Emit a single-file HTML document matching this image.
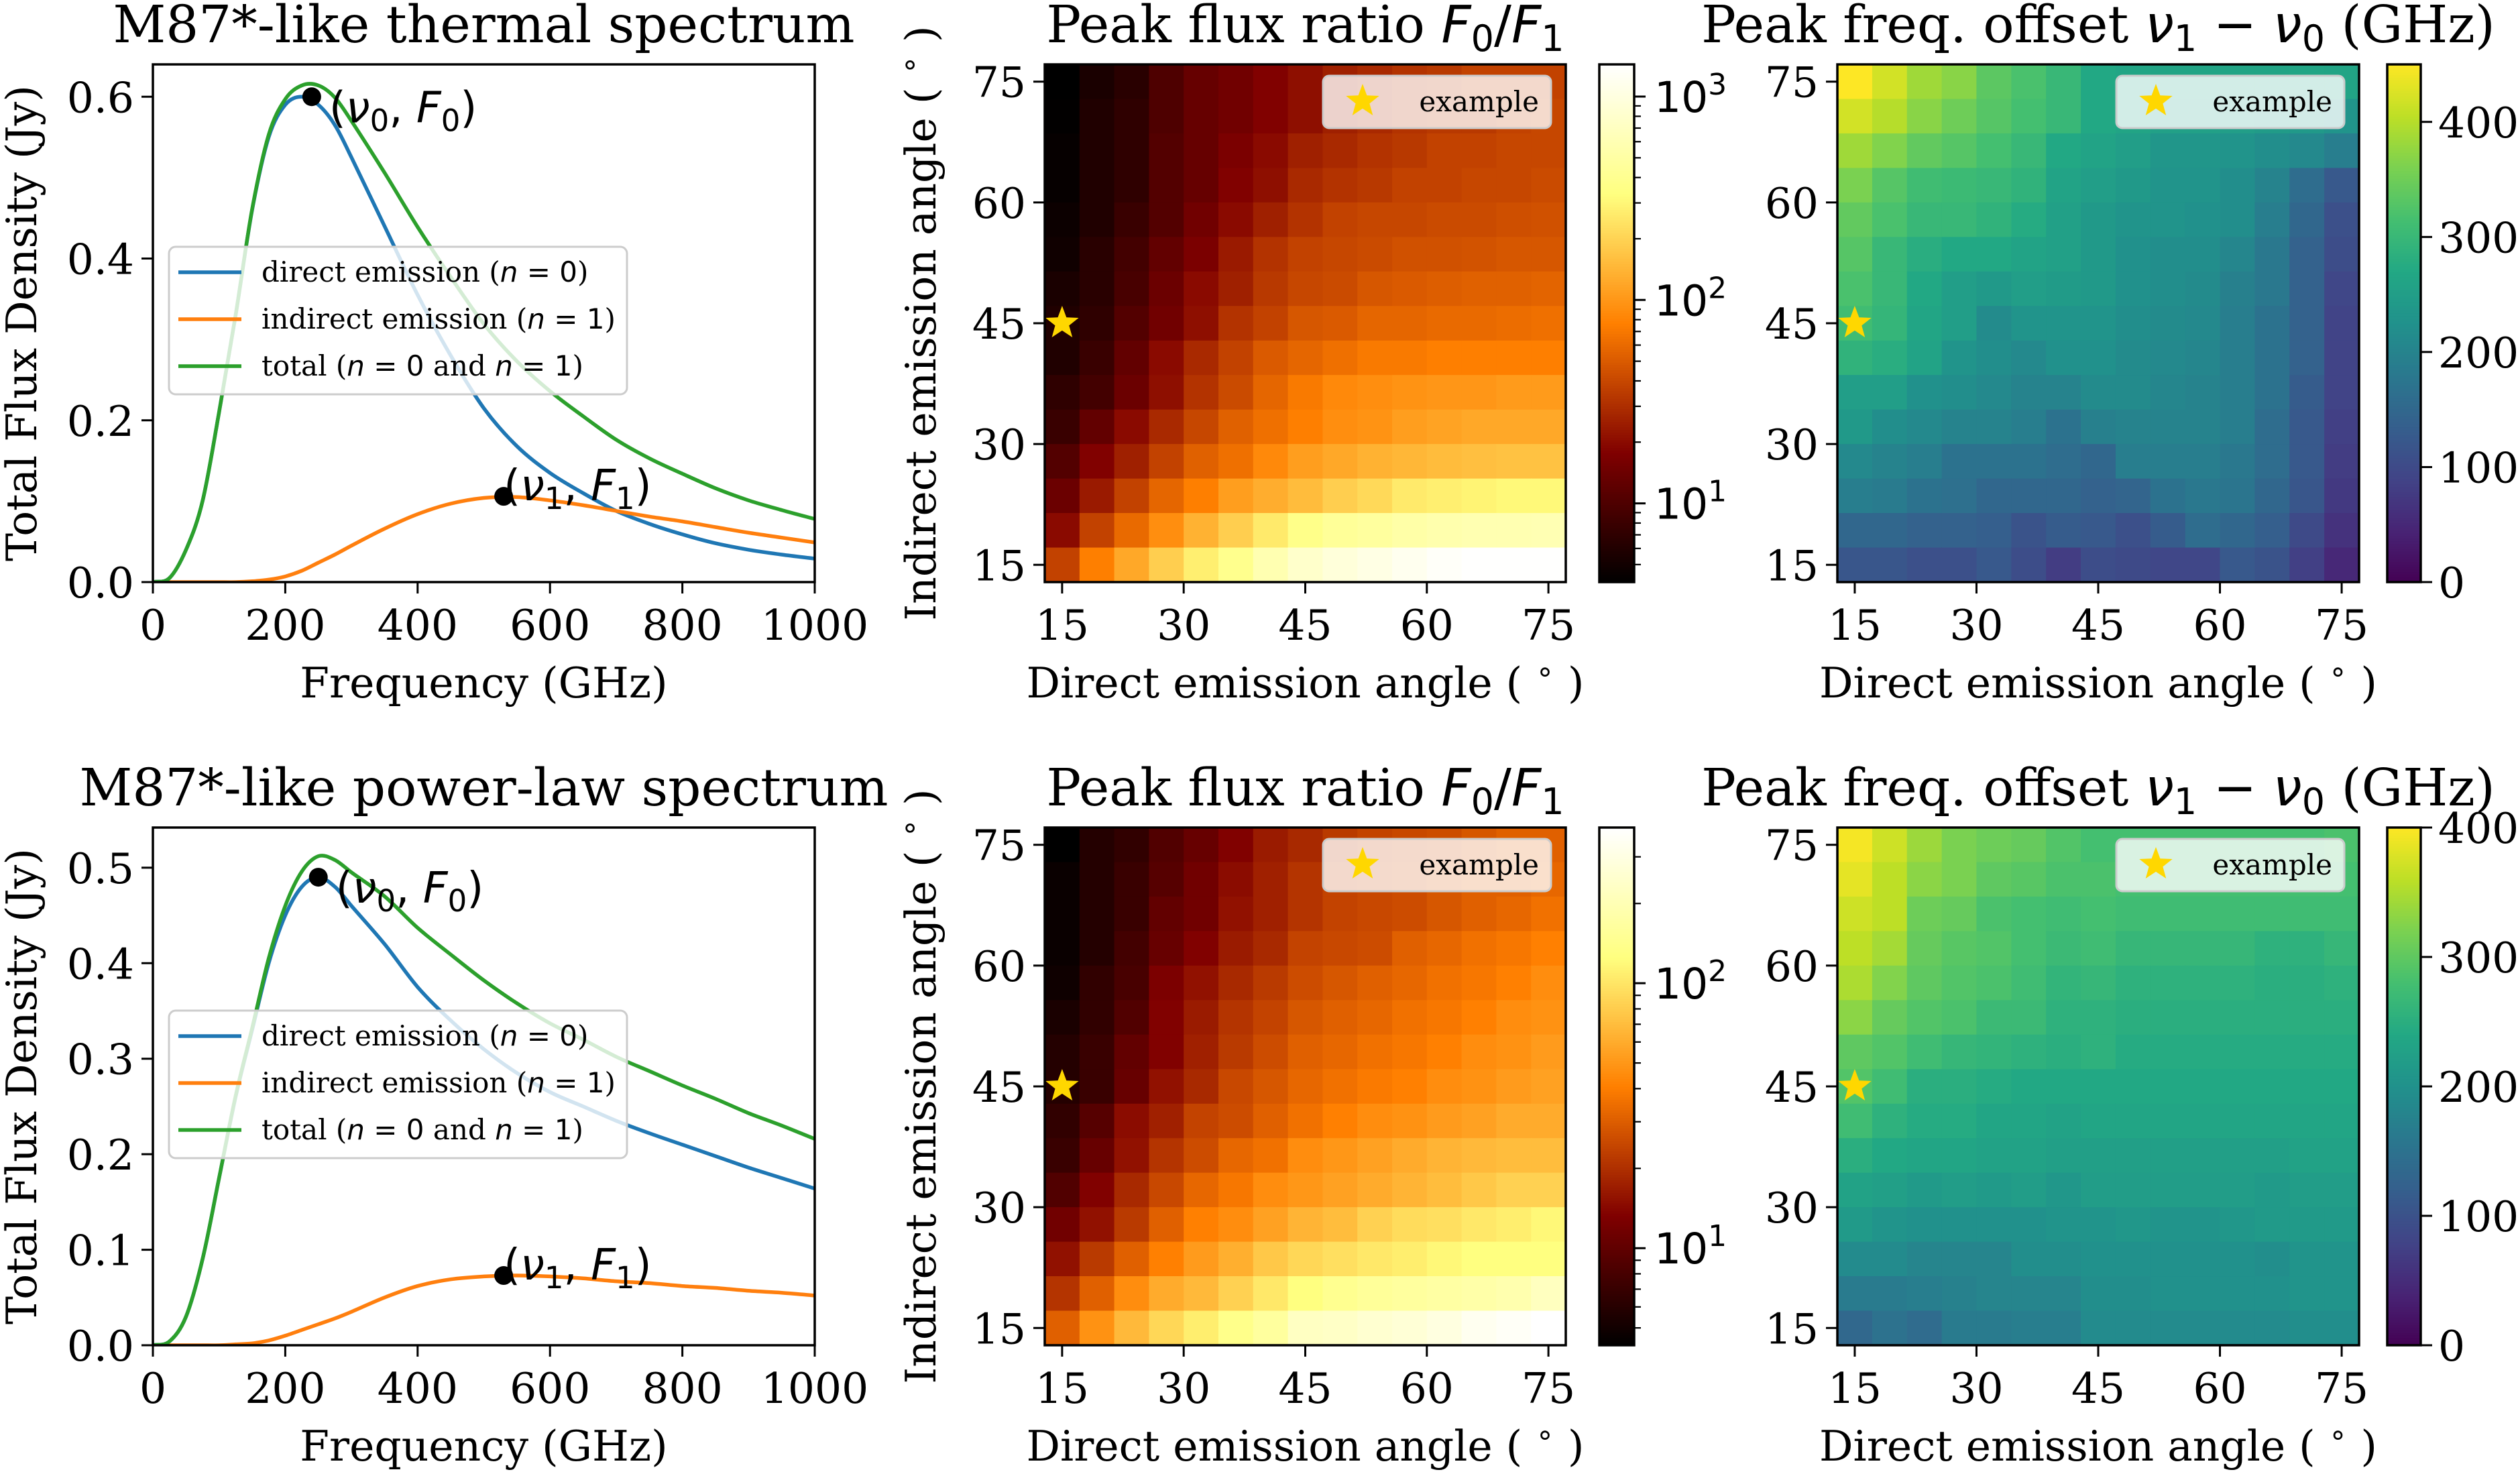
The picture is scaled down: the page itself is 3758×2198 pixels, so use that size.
<!DOCTYPE html>
<html><head><meta charset="utf-8"><style>
html,body{margin:0;padding:0;background:#fff;}
svg{display:block;}
text{font-family:"DejaVu Serif","Liberation Serif",serif;fill:#000;}
.m{font-family:"DejaVu Sans","Liberation Sans",sans-serif;}
</style></head><body>
<svg id="fig" xmlns="http://www.w3.org/2000/svg" width="3758" height="2198" viewBox="0 0 3758 2198"></svg>
<script>
// ---------- spectrum data ----------
const freqGHz=[0,25,50,75,100,125,150,175,200,225,250,275,300,350,400,450,500,550,600,650,700,750,800,850,900,950,1000];
const thermalDirect=[0,0.005,0.04,0.10,0.21,0.33,0.46,0.55,0.59,0.6,0.59,0.565,0.525,0.44,0.355,0.28,0.215,0.168,0.135,0.11,0.088,0.072,0.059,0.048,0.04,0.034,0.029];
const thermalIndirect=[0,0,0,0,0,0,0.001,0.003,0.007,0.014,0.024,0.034,0.045,0.066,0.084,0.097,0.104,0.105,0.101,0.095,0.088,0.081,0.075,0.068,0.061,0.055,0.049];
const thermalTotal=[0,0.005,0.04,0.10,0.21,0.33,0.461,0.553,0.597,0.614,0.614,0.599,0.57,0.506,0.439,0.377,0.319,0.273,0.236,0.205,0.176,0.153,0.134,0.116,0.101,0.089,0.078];
const thermalPeaks=[[240,0.6],[530,0.106]];
const plDirect=[0,0.004,0.03,0.09,0.175,0.26,0.33,0.4,0.45,0.48,0.49,0.48,0.46,0.42,0.375,0.34,0.31,0.285,0.265,0.25,0.235,0.222,0.21,0.198,0.186,0.175,0.164];
const plIndirect=[0,0,0,0,0,0.001,0.002,0.005,0.01,0.016,0.022,0.028,0.035,0.05,0.062,0.069,0.072,0.073,0.072,0.07,0.067,0.065,0.062,0.06,0.057,0.055,0.052];
const plTotal=[0,0.004,0.03,0.09,0.175,0.261,0.332,0.405,0.46,0.496,0.512,0.508,0.495,0.47,0.437,0.409,0.382,0.358,0.337,0.32,0.302,0.287,0.272,0.258,0.243,0.23,0.216];
const plPeaks=[[250,0.49],[530,0.073]];
const freqTicks=[0,200,400,600,800,1000];
const thermalYTicks=[0,0.2,0.4,0.6];
const plYTicks=[0,0.1,0.2,0.3,0.4,0.5];

// ---------- heatmap data ----------
const directAngles=[15,19.29,23.57,27.86,32.14,36.43,40.71,45,49.29,53.57,57.86,62.14,66.43,70.71,75];
const indirectAngles=[75,70.71,66.43,62.14,57.86,53.57,49.29,45,40.71,36.43,32.14,27.86,23.57,19.29,15]; // row order
const angleTicks=[15,30,45,60,75];
const exampleAngles=[15,45];
const thermalRatio=[
[4.1,5.5,6.6,10,13.3,15,18,21,25.5,28.5,32,34,38,38,38],
[4.2,5.9,7,10,13.3,15,18,21,25.5,28.5,32,34,34,38,40],
[4.4,5.9,7,10.6,13.3,16.9,20,25.5,28.5,32,34,38,38,40,40],
[4.4,5.9,7,10.6,13.3,18,21,28.5,32,34,38,38,40,40,42],
[4.7,5.9,7.9,10.6,15,20,25.5,32,38,40,40,42,42,44,45],
[4.9,6.6,8.9,12.6,16.9,24,32,38,40,42,45,45,46,48,48],
[5.5,6.6,9.4,14,20,25.5,34,40,42,48,50,52,54,54,56],
[5.9,7,10.6,15,21,32,38,48,50,57,57,60,60,62,64],
[5.9,7.9,12.6,20,28.5,38,50,57,64,72,72,76,76,76,76],
[7,8.9,14,21,32,42,57,72,86,91,96,100,100,105,105],
[7.9,12.6,20,28.5,40,54,64,76,91,96,109,115,122,122,122],
[10.6,18,25.5,38,54,64,86,109,122,137,145,154,160,165,165],
[14,24,38,57,76,109,130,154,190,214,262,278,292,310,310],
[20,38,60,91,137,190,262,370,440,470,525,560,590,590,600],
[38,76,122,190,278,390,590,790,940,1060,1200,1350,1430,1430,1430]];
const thermalRatioRange=[4.1,1440];
const plRatio=[
[4.3,5.9,6.6,8.8,10.7,13.4,16.8,19,22,24,25,26,28.5,31,31],
[4.7,5.9,7.1,9.2,11.7,14.7,17.6,21,24,25,26,28.5,31,31,33],
[4.7,5.9,7.1,10.2,11.7,15.4,17.6,21,24,25,26,28.5,31,33,36],
[4.7,5.9,7.8,10.7,13.4,16.8,19,24,25,26,31,33,36,38,41],
[4.9,6.6,8.1,12.8,15.4,19,22,26,28.5,31,33,36,38,41,46],
[5.4,6.6,8.8,13.4,16.8,21,24,28.5,31,33,36,38,41,46,48],
[5.9,7.1,10.2,13.4,17.6,22,26,31,33,36,38,41,46,48,52],
[5.9,7.1,10.7,15.4,19,25,28.5,33,36,39,41,46,48,52,55],
[6.6,9.2,14.7,17.6,24,26,31,36,41,46,48,52,55,60,60],
[7.1,10.7,15.4,21,26,33,36,46,50,55,60,65,68,70,70],
[8.8,13.4,19,25,33,38,46,50,55,60,65,70,77,84,84],
[11.7,15.4,22,31,41,46,55,65,70,84,92,95,103,108,118],
[15.4,22,31,41,52,62,77,88,95,103,108,118,126,126,126],
[21,31,46,60,68,84,103,126,145,158,165,172,180,190,220],
[31,48,68,88,108,138,165,225,235,255,270,295,340,360,387]];
const plRatioRange=[4.3,387];
const thermalOffset=[
[450,420,385,370,335,320,300,270,265,262,262,262,262,265,262],
[420,400,370,350,330,315,300,270,262,255,255,250,245,240,230],
[385,365,340,330,315,300,270,260,250,235,235,230,220,210,190],
[360,330,310,305,300,290,260,250,240,230,230,220,200,160,125],
[340,320,300,300,290,275,255,240,230,230,225,220,190,150,110],
[330,300,280,270,270,260,255,240,225,220,220,205,180,140,105],
[320,300,270,250,240,250,245,240,225,220,215,195,180,140,95],
[310,295,265,250,215,230,230,230,220,215,210,190,170,140,90],
[290,280,260,230,220,210,225,225,215,210,205,190,170,140,90],
[250,250,225,220,210,200,200,215,215,205,200,190,170,130,90],
[240,220,210,200,200,190,170,195,200,200,200,190,160,125,85],
[210,200,190,170,170,170,160,150,190,190,190,180,160,125,80],
[190,185,170,165,150,150,150,140,145,170,180,175,150,120,75],
[150,150,140,140,135,115,130,125,110,130,160,150,135,100,65],
[120,120,110,110,125,105,80,105,100,95,95,125,115,85,50]];
const thermalOffsetRange=[0,450];
const plOffset=[
[395,370,340,320,310,305,290,280,280,280,280,280,280,280,285],
[385,360,330,320,300,295,285,285,280,280,280,280,280,280,280],
[370,360,310,305,285,280,275,280,275,275,275,275,275,275,275],
[360,345,305,295,290,280,270,275,265,265,265,265,255,255,265],
[350,325,300,290,285,275,260,265,255,255,255,255,250,250,255],
[330,305,290,285,270,270,255,255,250,250,250,250,250,250,250],
[300,290,275,265,260,255,250,255,245,245,245,245,245,245,245],
[290,275,250,250,245,240,240,240,240,240,240,240,240,240,240],
[275,255,245,245,235,235,230,235,235,235,235,235,235,235,235],
[250,240,235,235,230,230,225,225,225,225,225,225,225,230,230],
[230,225,215,220,215,220,210,220,220,220,220,220,215,220,220],
[215,205,200,200,200,200,205,205,210,205,205,210,215,215,215],
[190,190,180,180,180,195,195,200,200,200,200,200,195,205,205],
[165,165,170,175,180,180,180,195,195,200,200,200,200,205,205],
[135,150,140,165,165,170,170,190,190,190,190,190,190,195,195]];
const plOffsetRange=[0,400];
const thermalOffsetTicks=[0,100,200,300,400];
const plOffsetTicks=[0,100,200,300,400];

// ---------- helpers ----------
const NS='http://www.w3.org/2000/svg';
const fig=document.getElementById('fig');
function mk(tag,attrs,parent){const e=document.createElementNS(NS,tag);for(const k in attrs)e.setAttribute(k,attrs[k]);(parent||fig).appendChild(e);return e;}
function clamp(v){return Math.max(0,Math.min(1,v));}
function hex(r,g,b){return 'rgb('+Math.round(clamp(r)*255)+','+Math.round(clamp(g)*255)+','+Math.round(clamp(b)*255)+')';}
function afmhot(t){t=clamp(t);return hex(2*t,2*t-0.5,2*t-1);}
const VIR=[[68,1,84],[72,36,117],[65,68,135],[53,95,141],[42,120,142],[33,145,140],[34,168,132],[68,191,112],[122,209,81],[189,223,38],[253,231,37]];
function viridis(t){t=clamp(t)*10;const i=Math.min(9,Math.floor(t)),f=t-i;const a=VIR[i],b=VIR[i+1];return 'rgb('+[0,1,2].map(k=>Math.round(a[k]+(b[k]-a[k])*f)).join(',')+')';}
function smoothPath(pts){let d='M'+pts[0][0]+','+pts[0][1];for(let i=0;i<pts.length-1;i++){const p0=pts[Math.max(0,i-1)],p1=pts[i],p2=pts[i+1],p3=pts[Math.min(pts.length-1,i+2)];
  const h=p2[0]-p1[0];const s1=(p2[1]-p0[1])/((p2[0]-p0[0])||1),s2=(p3[1]-p1[1])/((p3[0]-p1[0])||1);
  const c1=[p1[0]+h/3,p1[1]+s1*h/3],c2=[p2[0]-h/3,p2[1]-s2*h/3];
  d+=' C'+c1[0].toFixed(1)+','+c1[1].toFixed(1)+' '+c2[0].toFixed(1)+','+c2[1].toFixed(1)+' '+p2[0].toFixed(1)+','+p2[1].toFixed(1);}return d;}
function fmtTick(v,dec){return v.toFixed(dec);}
const TICK=63, LW=3.5;

// ---------- spectrum panel ----------
function spectrum(name,box,title,series,peaks,yTicks,ymax,dec){
  const g=mk('g',{});
  
  
  const xs=v=>box.l+v/1000*(box.r-box.l), ys=v=>box.b-v/ymax*(box.b-box.t);
  const t=mk('text',{x:(box.l+box.r)/2,y:box.t-33,'font-size':77,'text-anchor':'middle'},g);t.textContent=title;
  
  
  const clip='clip-'+name;const cp=mk('clipPath',{id:clip},g);mk('rect',{x:box.l,y:box.t,width:box.r-box.l,height:box.b-box.t},cp);
  series.forEach(s=>{
    const p=mk('path',{d:smoothPath(freqGHz.map((f,i)=>[xs(f),ys(s.vals[i])])),fill:'none',stroke:s.color,'stroke-width':5.5,'clip-path':'url(#'+clip+')'},g);
    
    
  });
  peaks.forEach((pk,i)=>{
    const c=mk('circle',{cx:xs(pk[0]),cy:ys(pk[1]),r:14,fill:'#000'},g);
    
    
    const lx=i===0?xs(pk[0])+26:xs(pk[0]), ly=i===0?ys(pk[1])+38:ys(pk[1])+6;
    const tx=mk('text',{x:lx,y:ly,'font-size':64,class:'m'},g);
    tx.innerHTML='(<tspan font-style="italic">ν</tspan><tspan font-size="45" dy="13">'+i+'</tspan><tspan dy="-13">, </tspan><tspan font-style="italic">F</tspan><tspan font-size="45" dy="13">'+i+'</tspan><tspan dy="-13">)</tspan>';
    
    
  });
  const fr=mk('rect',{x:box.l,y:box.t,width:box.r-box.l,height:box.b-box.t,fill:'none',stroke:'#000','stroke-width':LW},g);
  
  
  freqTicks.forEach(v=>{
    mk('line',{x1:xs(v),x2:xs(v),y1:box.b,y2:box.b+17,stroke:'#000','stroke-width':3},g);
    const l=mk('text',{x:xs(v),y:box.b+86,'font-size':TICK,'text-anchor':'middle'},g);l.textContent=v;
    
    
  });
  yTicks.forEach(v=>{
    mk('line',{x1:box.l-17,x2:box.l,y1:ys(v),y2:ys(v),stroke:'#000','stroke-width':3},g);
    const l=mk('text',{x:box.l-28,y:ys(v)+23,'font-size':TICK,'text-anchor':'end'},g);l.textContent=fmtTick(v,dec);
    
    
  });
  const xl=mk('text',{x:(box.l+box.r)/2,y:box.b+172,'font-size':TICK,'text-anchor':'middle'},g);xl.textContent='Frequency (GHz)';
  
  
  const yl=mk('text',{x:0,y:0,'font-size':TICK,'text-anchor':'middle',transform:'translate(54,'+((box.t+box.b)/2)+') rotate(-90)'},g);yl.textContent='Total Flux Density (Jy)';
  
  
  const lg=mk('g',{},g);
  
  
  const ly0=box.legendTop;
  mk('rect',{x:252,y:ly0,width:683,height:220,rx:10,fill:'#fff','fill-opacity':0.8,stroke:'#cccccc','stroke-width':3},lg);
  const labels=['direct emission (<tspan class="m" font-style="italic">n</tspan><tspan class="m"> = 0</tspan>)','indirect emission (<tspan class="m" font-style="italic">n</tspan><tspan class="m"> = 1</tspan>)','total (<tspan class="m" font-style="italic">n</tspan><tspan class="m"> = 0</tspan> and <tspan class="m" font-style="italic">n</tspan><tspan class="m"> = 1</tspan>)'];
  series.forEach((s,i)=>{
    const y=ly0+38+i*70;
    const e=mk('line',{x1:266,x2:360,y1:y,y2:y,stroke:s.color,'stroke-width':5.5},lg);
    
    
    const tx=mk('text',{x:390,y:y+14,'font-size':42},lg);tx.innerHTML=labels[i];
    
    
  });
}
spectrum('thermal-spectrum',{l:228,r:1215,t:96,b:868,legendTop:368},'M87*-like thermal spectrum',
 [{key:'direct',vals:thermalDirect,color:'#1f77b4'},{key:'indirect',vals:thermalIndirect,color:'#ff7f0e'},{key:'total',vals:thermalTotal,color:'#2ca02c'}],
 thermalPeaks,thermalYTicks,0.64,1);
spectrum('power-law-spectrum',{l:228,r:1215,t:1234,b:2006,legendTop:1507},'M87*-like power-law spectrum',
 [{key:'direct',vals:plDirect,color:'#1f77b4'},{key:'indirect',vals:plIndirect,color:'#ff7f0e'},{key:'total',vals:plTotal,color:'#2ca02c'}],
 plPeaks,plYTicks,0.542,1);

// ---------- heatmap panel ----------
function heatmap(name,box,titleHTML,grid,range,isLog,cmap,cbar,cbTicks,showYLabel){
  const g=mk('g',{});
  
  
  const step=(75-15)/14, a0=15-step/2, a1=75+step/2;
  const xs=v=>box.l+(v-a0)/(a1-a0)*(box.r-box.l), ys=v=>box.b-(v-a0)/(a1-a0)*(box.b-box.t);
  const norm=v=>isLog?(Math.log10(v)-Math.log10(range[0]))/(Math.log10(range[1])-Math.log10(range[0])):(v-range[0])/(range[1]-range[0]);
  grid.forEach((row,r)=>row.forEach((v,c)=>{
    const x0=xs(directAngles[c]-step/2),x1=xs(directAngles[c]+step/2),y0=ys(indirectAngles[r]+step/2),y1=ys(indirectAngles[r]-step/2);
    const cell=mk('rect',{x:x0.toFixed(2),y:y0.toFixed(2),width:(x1-x0+0.8).toFixed(2),height:(y1-y0+0.8).toFixed(2),fill:cmap(norm(v))},g);
    
    
  }));
  const st=mk('polygon',{points:starPts(xs(exampleAngles[0]),ys(exampleAngles[1]),26),fill:'#ffd700'},g);
  
  
  const fr=mk('rect',{x:box.l,y:box.t,width:box.r-box.l,height:box.b-box.t,fill:'none',stroke:'#000','stroke-width':LW},g);
  
  
  const lg=mk('g',{},g);
  
  
  mk('rect',{x:box.r-362,y:box.t+17,width:340,height:78,rx:9,fill:'#fff','fill-opacity':0.8,stroke:'#cccccc','stroke-width':3},lg);
  mk('polygon',{points:starPts(box.r-303,box.t+55,26),fill:'#ffd700'},lg);
  const lt=mk('text',{x:box.r-40,y:box.t+70,'font-size':42,'text-anchor':'end'},lg);lt.textContent='example';
  
  
  angleTicks.forEach(v=>{
    mk('line',{x1:xs(v),x2:xs(v),y1:box.b,y2:box.b+17,stroke:'#000','stroke-width':3},g);
    const l=mk('text',{x:xs(v),y:box.b+86,'font-size':TICK,'text-anchor':'middle'},g);l.textContent=v;
    
    
    mk('line',{x1:box.l-17,x2:box.l,y1:ys(v),y2:ys(v),stroke:'#000','stroke-width':3},g);
    const m=mk('text',{x:box.l-28,y:ys(v)+23,'font-size':TICK,'text-anchor':'end'},g);m.textContent=v;
    
    
  });
  const t=mk('text',{x:(box.l+box.r)/2,y:box.t-33,'font-size':77,'text-anchor':'middle'},g);t.innerHTML=titleHTML;
  
  
  const xl=mk('text',{x:(box.l+box.r)/2,y:box.b+172,'font-size':TICK,'text-anchor':'middle'},g);
  xl.innerHTML='Direct emission angle ( <tspan class="m" font-size="44" dy="-24">∘</tspan><tspan dy="24"> )</tspan>';
  
  
  if(showYLabel){
    const yl=mk('text',{x:0,y:0,'font-size':TICK,'text-anchor':'middle',transform:'translate('+(box.l-163)+','+((box.t+box.b)/2)+') rotate(-90)'},g);
    yl.innerHTML='Indirect emission angle ( <tspan class="m" font-size="44" dy="-24">∘</tspan><tspan dy="24"> )</tspan>';
    
    
  }
  const cg=mk('g',{},g);
  
  
  const N=200,h=(box.b-box.t)/N;
  for(let i=0;i<N;i++){mk('rect',{x:cbar.l,y:(box.b-(i+1)*h).toFixed(2),width:cbar.w,height:(h+0.8).toFixed(2),fill:cmap((i+0.5)/N)},cg);}
  mk('rect',{x:cbar.l,y:box.t,width:cbar.w,height:box.b-box.t,fill:'none',stroke:'#000','stroke-width':LW},cg);
  const cy=v=>box.b-norm(v)*(box.b-box.t);
  if(isLog){
    for(let d=0;d<4;d++)for(let k=1;k<10;k++){const v=k*Math.pow(10,d);if(v<range[0]||v>range[1])continue;
      mk('line',{x1:cbar.l+cbar.w,x2:cbar.l+cbar.w+(k===1?17:10),y1:cy(v),y2:cy(v),stroke:'#000','stroke-width':k===1?3:2.2},cg);
      if(k===1){const l=mk('text',{x:cbar.l+cbar.w+30,y:cy(v)+23,'font-size':TICK,class:'m'},cg);l.innerHTML='10<tspan font-size="44" dy="-26">'+d+'</tspan>';
        
        }
    }
  } else {
    cbTicks.forEach(v=>{mk('line',{x1:cbar.l+cbar.w,x2:cbar.l+cbar.w+17,y1:cy(v),y2:cy(v),stroke:'#000','stroke-width':3},cg);
      const l=mk('text',{x:cbar.l+cbar.w+26,y:cy(v)+23,'font-size':TICK},cg);l.textContent=v;
      
      });
  }
}
function starPts(cx,cy,R){const p=[];for(let i=0;i<10;i++){const r=i%2?R*0.42:R,a=-Math.PI/2+i*Math.PI/5;p.push((cx+r*Math.cos(a)).toFixed(1)+','+(cy+r*Math.sin(a)).toFixed(1));}return p.join(' ');}
const ratioTitle='Peak flux ratio <tspan class="m" font-style="italic">F</tspan><tspan class="m" font-size="54" dy="13">0</tspan><tspan class="m" dy="-13">/</tspan><tspan class="m" font-style="italic">F</tspan><tspan class="m" font-size="54" dy="13">1</tspan>';
const offTitle='Peak freq. offset <tspan class="m" font-style="italic">ν</tspan><tspan class="m" font-size="54" dy="13">1</tspan><tspan class="m" dy="-13"> − </tspan><tspan class="m" font-style="italic">ν</tspan><tspan class="m" font-size="54" dy="13">0</tspan><tspan dy="-13"> (GHz)</tspan>';
heatmap('thermal-flux-ratio-heatmap',{l:1558,r:2335,t:96,b:868},ratioTitle,thermalRatio,thermalRatioRange,true,afmhot,{l:2385,w:52},null,true);
heatmap('thermal-freq-offset-heatmap',{l:2740,r:3518,t:96,b:868},offTitle,thermalOffset,thermalOffsetRange,false,viridis,{l:3560,w:50},thermalOffsetTicks,false);
heatmap('power-law-flux-ratio-heatmap',{l:1558,r:2335,t:1234,b:2006},ratioTitle,plRatio,plRatioRange,true,afmhot,{l:2385,w:52},null,true);
heatmap('power-law-freq-offset-heatmap',{l:2740,r:3518,t:1234,b:2006},offTitle,plOffset,plOffsetRange,false,viridis,{l:3560,w:50},plOffsetTicks,false);
</script>
</body></html>
